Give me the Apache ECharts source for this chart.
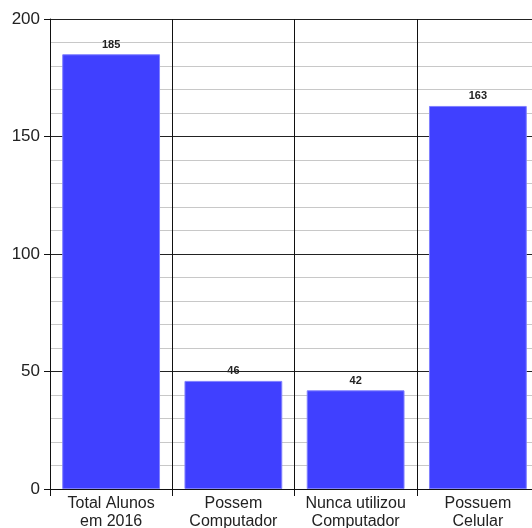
<!DOCTYPE html>
<html>
<head>
<meta charset="utf-8">
<script src="https://cdn.jsdelivr.net/npm/echarts@6/dist/echarts.min.js"></script>
<style>
  html, body { margin: 0; padding: 0; background: #fff; overflow: hidden; }
  #chart { width: 539px; height: 528px; }
</style>
</head>
<body>
<div id="chart"></div>
<script>
const categories = ["Total Alunos\nem 2016", "Possem\nComputador", "Nunca utilizou\nComputador", "Possuem\nCelular"];
const values = [185, 46, 42, 163];

const chart = echarts.init(document.getElementById("chart"));
chart.setOption({
  animation: false,
  textStyle: { fontFamily: "Liberation Sans, Arial, sans-serif" },
  grid: { left: 50, top: 19, bottom: 39, right: 0, outerBoundsMode: "none", containLabel: false },
  xAxis: {
    type: "category",
    data: categories,
    axisLine: { lineStyle: { color: "#111", width: 1 } },
    axisTick: { show: true, interval: 0, length: 7, lineStyle: { color: "#111" } },
    splitLine: { show: true, interval: 0, lineStyle: { color: "#111", width: 1 } },
    axisLabel: { interval: 0, color: "#222", fontSize: 16, lineHeight: 18, margin: 6 },
  },
  yAxis: {
    type: "value",
    min: 0,
    max: 200,
    interval: 50,
    axisLine: { show: true, lineStyle: { color: "#111" } },
    axisTick: { show: true, length: 6, lineStyle: { color: "#111" } },
    axisLabel: { color: "#222", fontSize: 17, margin: 10 },
    splitLine: { show: true, lineStyle: { color: "#222", width: 1 } },
    minorTick: { show: false, splitNumber: 5 },
    minorSplitLine: { show: true, lineStyle: { color: "#c8c8c8", width: 1 } },
  },
  series: [
    {
      type: "bar",
      data: values,
      barWidth: "80%",
      itemStyle: { color: "#4040ff", borderColor: "#8080ff", borderWidth: 1 },
      label: {
        show: true,
        position: "top",
        distance: 4,
        fontSize: 11,
        fontWeight: "bold",
        color: "#222",
      },
    },
  ],
});
</script>
</body>
</html>
